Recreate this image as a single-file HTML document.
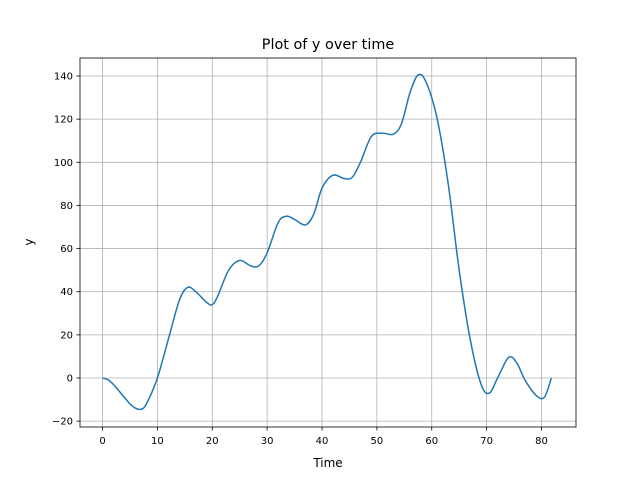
<!DOCTYPE html>
<html><head><meta charset="utf-8"><style>
body{margin:0;background:#fff;}
svg{display:block;font-family:"DejaVu Sans","Liberation Sans",sans-serif;}
</style></head><body>
<svg id="chart" width="640" height="480">
<rect width="640" height="480" fill="#fff"/>
<g id="grid"></g>
<g id="plot"></g>
<rect x="80" y="58" width="496" height="369" fill="none" stroke="#000" stroke-width="0.8"/>
<g id="axes"></g>
<text x="328" y="49" text-anchor="middle" font-size="14.4">Plot of y over time</text>
<text x="328" y="467" text-anchor="middle" font-size="12">Time</text>
<text x="33" y="242" text-anchor="middle" font-size="12" transform="rotate(-90 33 242)">y</text>
</svg>
<script>
const xTicks=[0,10,20,30,40,50,60,70,80];
const yTicks=[-20,0,20,40,60,80,100,120,140];
const times=[0,1,2,4,5,6,7,8,10,12,14,15.5,17,19,20,21,23,25,27,28.5,30,32,33.5,35,37,38.5,40,42,44,45.5,47,49,51,53,54.5,56,57.5,59,61,63,65,67,69,70.5,72,74,75.5,77,79,80.5,81.8];
const values=[0,-0.8,-3,-9,-12,-14,-14.5,-12,0,18,36,42,40,35,34,38,50,54.5,52,52,58,72,75,73.5,71,76,88,94,92.5,93,100,112,113.5,113,118,132,140.5,137,120,90,50,18,-3,-7,0,9.5,7,-1,-8,-9,0];
const X=t=>102.5+t*5.4875;
const Y=v=>378-v*2.157;
const NS="http://www.w3.org/2000/svg";
const grid=document.getElementById('grid'),axes=document.getElementById('axes'),plot=document.getElementById('plot');
function mk(tag,attrs,parent){const e=document.createElementNS(NS,tag);for(const k in attrs)e.setAttribute(k,attrs[k]);parent.appendChild(e);return e;}
xTicks.forEach(t=>{
 const g=mk('line',{x1:X(t),x2:X(t),y1:58,y2:427,stroke:'#b0b0b0','stroke-width':0.8},grid);
 
 
 const tk=mk('line',{x1:X(t),x2:X(t),y1:427,y2:430.5,stroke:'#000','stroke-width':0.8},axes);
 
 
 const tx=mk('text',{x:X(t),y:444,'text-anchor':'middle','font-size':10},axes);tx.textContent=t;
 
 
});
yTicks.forEach(v=>{
 const g=mk('line',{x1:80,x2:576,y1:Y(v),y2:Y(v),stroke:'#b0b0b0','stroke-width':0.8},grid);
 
 
 const tk=mk('line',{x1:76.5,x2:80,y1:Y(v),y2:Y(v),stroke:'#000','stroke-width':0.8},axes);
 
 
 const tx=mk('text',{x:73,y:Y(v)+3.5,'text-anchor':'end','font-size':10},axes);tx.textContent=(v<0?'\u2212'+(-v):v);
 
 
});
const P=times.map((t,i)=>[X(t),Y(values[i])]);
let d='M'+P[0][0]+','+P[0][1];
for(let i=0;i<P.length-1;i++){
 const p0=P[Math.max(0,i-1)],p1=P[i],p2=P[i+1],p3=P[Math.min(P.length-1,i+2)];
 const c1=[p1[0]+(p2[0]-p0[0])/6,p1[1]+(p2[1]-p0[1])/6];
 const c2=[p2[0]-(p3[0]-p1[0])/6,p2[1]-(p3[1]-p1[1])/6];
 d+=' C'+c1+' '+c2+' '+p2;
}
const line=mk('path',{d:d,fill:'none',stroke:'#1f77b4','stroke-width':1.5},plot);


</script>
</body></html>
